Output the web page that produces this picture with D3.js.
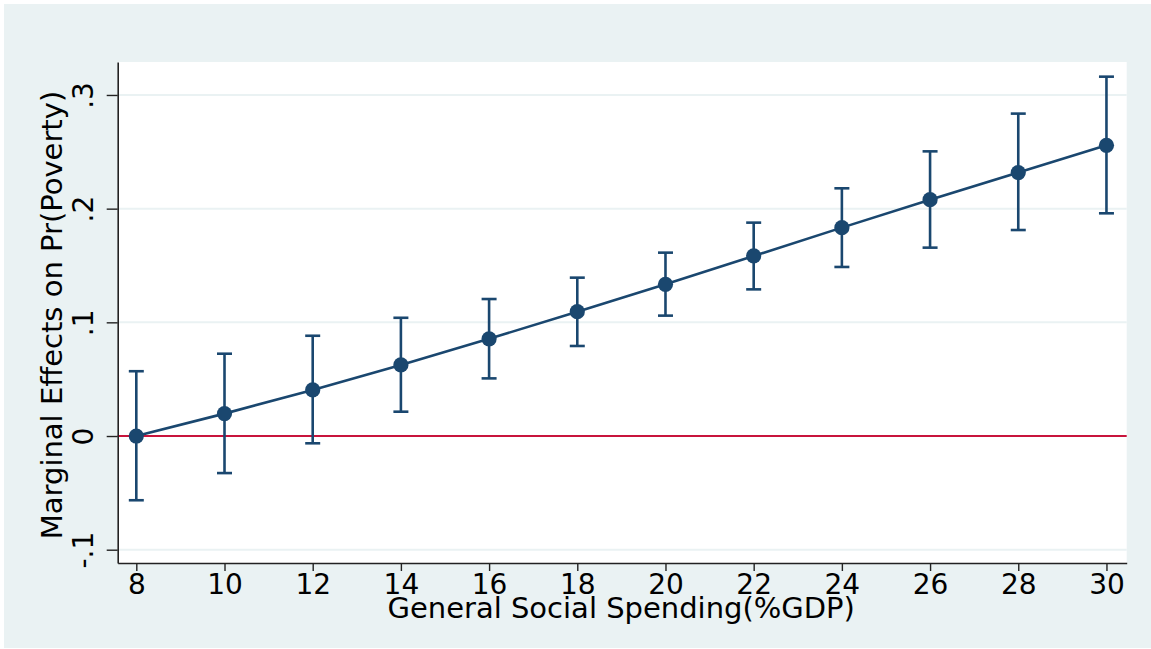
<!DOCTYPE html>
<html>
<head>
<meta charset="utf-8">
<script src="https://cdn.jsdelivr.net/npm/d3@7"></script>
<style>
  html, body { margin: 0; padding: 0; background: #ffffff; }
  svg { display: block; font-family: "DejaVu Sans", sans-serif; }
</style>
</head>
<body>
<svg id="chart" width="1151" height="649"></svg>
<script>
// ---- data ----
const spending = [8, 10, 12, 14, 16, 18, 20, 22, 24, 26, 28, 30];
const effect   = [0.000, 0.0197, 0.0405, 0.0625, 0.0855, 0.1094, 0.1334, 0.1584, 0.1833, 0.2079, 0.2317, 0.2557];
const ciLower  = [-0.0565, -0.0326, -0.0064, 0.0214, 0.0507, 0.0792, 0.1059, 0.1290, 0.1487, 0.1657, 0.1812, 0.1959];
const ciUpper  = [0.0570, 0.0724, 0.0882, 0.1040, 0.1205, 0.1393, 0.1613, 0.1877, 0.2179, 0.2504, 0.2836, 0.3161];
const xTicks = [8, 10, 12, 14, 16, 18, 20, 22, 24, 26, 28, 30];
const yTicks = [-0.1, 0, 0.1, 0.2, 0.3];
const yTickLabels = ["-.1", "0", ".1", ".2", ".3"];
const xTitle = "General Social Spending(%GDP)";
const yTitle = "Marginal Effects on Pr(Poverty)";

const navy = "#1a476f";
const svg = d3.select("#chart");

// outer graph region
svg.append("rect").attr("x", 4).attr("y", 4).attr("width", 1147).attr("height", 644)
   .attr("fill", "#eaf2f3");

const plot = { left: 117.7, right: 1126.7, top: 62, bottom: 563 };

const x = d3.scaleLinear().domain([7.578, 30.459]).range([plot.left, plot.right]);
const y = d3.scaleLinear().domain([-0.1117, 0.329]).range([plot.bottom, plot.top]);

// plot region
svg.append("rect").attr("x", plot.left).attr("y", plot.top)
   .attr("width", plot.right - plot.left).attr("height", plot.bottom - plot.top)
   .attr("fill", "#ffffff");

// gridlines
svg.append("g").selectAll("line").data(yTicks.filter(v => v !== 0)).join("line")
   .attr("x1", plot.left).attr("x2", plot.right)
   .attr("y1", d => y(d)).attr("y2", d => y(d))
   .attr("stroke", "#eaf2f3").attr("stroke-width", 2);

// zero reference line
svg.append("line").attr("x1", plot.left).attr("x2", plot.right)
   .attr("y1", y(0)).attr("y2", y(0))
   .attr("stroke", "#c8143c").attr("stroke-width", 2);

// error bars
const rows = spending.map((s, i) => ({ s, e: effect[i], lo: ciLower[i], hi: ciUpper[i] }));
const eb = svg.append("g").attr("stroke", navy).attr("stroke-width", 2.6).attr("fill", "none");
eb.selectAll("line.v").data(rows).join("line").attr("class", "v")
  .attr("x1", d => x(d.s)).attr("x2", d => x(d.s))
  .attr("y1", d => y(d.lo)).attr("y2", d => y(d.hi));
eb.selectAll("line.t").data(rows).join("line").attr("class", "t")
  .attr("x1", d => x(d.s) - 7.5).attr("x2", d => x(d.s) + 7.5)
  .attr("y1", d => y(d.hi)).attr("y2", d => y(d.hi));
eb.selectAll("line.b").data(rows).join("line").attr("class", "b")
  .attr("x1", d => x(d.s) - 7.5).attr("x2", d => x(d.s) + 7.5)
  .attr("y1", d => y(d.lo)).attr("y2", d => y(d.lo));

// connecting line
svg.append("path").datum(rows)
   .attr("d", d3.line().x(d => x(d.s)).y(d => y(d.e)))
   .attr("fill", "none").attr("stroke", navy).attr("stroke-width", 2.6);

// markers
svg.append("g").selectAll("circle").data(rows).join("circle")
   .attr("cx", d => x(d.s)).attr("cy", d => y(d.e)).attr("r", 7.6)
   .attr("fill", navy);

// axes
const xAxis = d3.axisBottom(x).tickValues(xTicks).tickFormat(d3.format("d")).tickSize(8).tickSizeOuter(0);
const gx = svg.append("g").attr("transform", `translate(0,${plot.bottom})`).call(xAxis);
gx.select(".domain").attr("stroke", "#222").attr("stroke-width", 1.6);
gx.selectAll(".tick line").attr("stroke", "#222").attr("stroke-width", 1.4);
gx.selectAll(".tick text").attr("font-size", 28).attr("fill", "#000")
  .attr("font-family", "DejaVu Sans").attr("dy", null).attr("y", 31);

const yAxis = d3.axisLeft(y).tickValues(yTicks).tickFormat((d, i) => yTickLabels[i]).tickSize(11).tickSizeOuter(0);
const gy = svg.append("g").attr("transform", `translate(${plot.left},0)`).call(yAxis);
gy.select(".domain").attr("stroke", "#222").attr("stroke-width", 1.6);
gy.selectAll(".tick line").attr("stroke", "#222").attr("stroke-width", 1.4);
gy.selectAll(".tick text").attr("font-size", 28).attr("fill", "#000")
  .attr("font-family", "DejaVu Sans")
  .attr("x", null).attr("dy", null)
  .attr("text-anchor", "middle")
  .attr("transform", "translate(-24.5,0) rotate(-90)");

// titles
svg.append("text").attr("x", (plot.left + plot.right) / 2 - 1).attr("y", 617.5)
   .attr("text-anchor", "middle").attr("font-size", 29).attr("fill", "#000")
   .text(xTitle);
svg.append("text").attr("transform", `translate(62,${(plot.top + plot.bottom) / 2 + 2.5}) rotate(-90)`)
   .attr("text-anchor", "middle").attr("font-size", 29).attr("fill", "#000")
   .text(yTitle);
</script>
</body>
</html>
